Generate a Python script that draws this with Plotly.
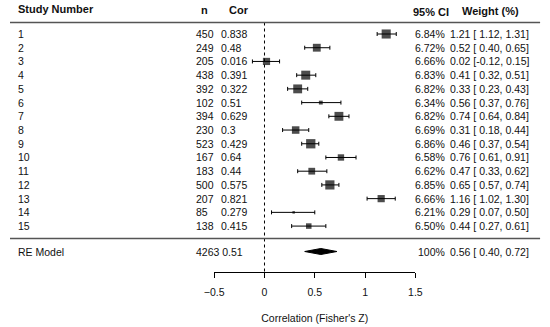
import plotly.graph_objects as go

# ---------------- data ----------------
study = list(range(1, 16))
n = [450, 249, 205, 438, 392, 102, 394, 230, 523, 167, 183, 500, 207, 85, 138]
cor = [0.838, 0.48, 0.016, 0.391, 0.322, 0.51, 0.629, 0.3, 0.429, 0.64, 0.44, 0.575, 0.821, 0.279, 0.415]
weight = [6.84, 6.72, 6.66, 6.83, 6.82, 6.34, 6.82, 6.69, 6.86, 6.58, 6.62, 6.85, 6.66, 6.21, 6.50]
est = [1.21, 0.52, 0.02, 0.41, 0.33, 0.56, 0.74, 0.31, 0.46, 0.76, 0.47, 0.65, 1.16, 0.29, 0.44]
ci_lo = [1.12, 0.40, -0.12, 0.32, 0.23, 0.37, 0.64, 0.18, 0.37, 0.61, 0.33, 0.57, 1.02, 0.07, 0.27]
ci_hi = [1.31, 0.65, 0.15, 0.51, 0.43, 0.76, 0.84, 0.44, 0.54, 0.91, 0.62, 0.74, 1.30, 0.50, 0.61]

re_label = "RE Model"
re_n = 4263
re_cor = 0.51
re_weight = "100%"
re_est = 0.56
re_lo = 0.40
re_hi = 0.72

x_ticks = [-0.5, 0, 0.5, 1, 1.5]
x_ticktext = ["\u22120.5", "0", "0.5", "1", "1.5"]
x_title = "Correlation (Fisher's Z)"

# ---------------- layout helpers ----------------
W, H = 550, 327
ROW0_PX, ROW_PX = 34.0, 13.72


def row(px):
    return (px - ROW0_PX) / ROW_PX + 1


def px_x(px):
    return px / W


FONT = "Liberation Sans, Arial, sans-serif"
FS = 10.5
FS_HEAD = 11
TXT = "#111111"

rows = study
re_row = row(251.5)

# marker sizes scaled from weights (metafor-like)
wmin, wmax = min(weight), max(weight)
sizes = [2.5 + (w - wmin) / (wmax - wmin) * 6.8 for w in weight]

fig = go.Figure()

# study estimates with CIs
fig.add_trace(go.Scatter(
    x=est, y=rows, mode="markers",
    marker=dict(symbol="square", size=sizes, color="black", line=dict(width=0)),
    error_x=dict(type="data", symmetric=False,
                 array=[h - e for h, e in zip(ci_hi, est)],
                 arrayminus=[e - l for e, l in zip(est, ci_lo)],
                 color="black", thickness=1, width=2),
    hoverinfo="skip", showlegend=False, cliponaxis=False,
))

# RE diamond
hh = 3.0 / ROW_PX
fig.add_trace(go.Scatter(
    x=[re_lo, re_est, re_hi, re_est, re_lo],
    y=[re_row, re_row - hh, re_row, re_row + hh, re_row],
    mode="lines", fill="toself", fillcolor="black",
    line=dict(color="black", width=1),
    hoverinfo="skip", showlegend=False,
))

shapes = []
# dotted zero line
shapes.append(dict(type="line", xref="x", yref="y", x0=0, x1=0,
                   y0=row(22.5), y1=row(271.7),
                   line=dict(color="black", width=1, dash="dot")))
# header line and bottom separator
for ypx in (22.5, 238.5):
    shapes.append(dict(type="line", xref="paper", yref="y", x0=0, x1=px_x(547),
                       y0=row(ypx), y1=row(ypx),
                       line=dict(color="#555555", width=1.6)))

ann = []


def add_text(text, xpx, ypx_row, anchor="left", bold=False):
    ann.append(dict(text=f"<b>{text}</b>" if bold else text,
                    x=px_x(xpx), y=ypx_row, xref="paper", yref="y",
                    xanchor=anchor, yanchor="middle", showarrow=False,
                    font=dict(family=FONT, size=FS_HEAD if bold else FS, color=TXT),
                    borderpad=0))


# headers
add_text("Study Number", 7.5, row(9), bold=True)
add_text("n", 196.5, row(10), bold=True)
add_text("Cor", 224.5, row(10), bold=True)
add_text("95% CI", 454, row(11.5), anchor="right", bold=True)
add_text("Weight (%)", 465, row(10.5), bold=True)

for i, r in enumerate(rows):
    add_text(str(study[i]), 7.5, r)
    add_text(str(n[i]), 191, r)
    add_text(str(cor[i]), 217, r)
    add_text(f"{weight[i]:.2f}%", 450, r, anchor="right")
    add_text(f"{est[i]:.2f} [{ci_lo[i]:5.2f},{ci_hi[i]:5.2f}]", 537, r, anchor="right")

add_text(re_label, 7.5, re_row)
add_text(f"{re_n} {re_cor}", 191, re_row)
add_text(re_weight, 450, re_row, anchor="right")
add_text(f"{re_est:.2f} [{re_lo:5.2f},{re_hi:5.2f}]", 537, re_row, anchor="right")

fig.update_layout(
    width=W, height=H,
    margin=dict(l=0, r=0, t=0, b=0),
    paper_bgcolor="white", plot_bgcolor="rgba(0,0,0,0)",
    showlegend=False,
    shapes=shapes, annotations=ann,
    xaxis=dict(
        domain=[210.7 / W, 418.3 / W], range=[-0.5, 1.5],
        anchor="free", position=1 - 271.7 / H,
        showline=True, linecolor="black", linewidth=1,
        ticks="outside", ticklen=5, tickcolor="black", tickwidth=1,
        tickvals=x_ticks, ticktext=x_ticktext,
        tickfont=dict(family=FONT, size=FS, color=TXT),
        ticklabelstandoff=6,
        showgrid=False, zeroline=False,
        title=dict(text=x_title, font=dict(family=FONT, size=FS, color=TXT), standoff=17),
    ),
    yaxis=dict(
        domain=[0, 1], range=[row(H), row(0)],
        visible=False, showgrid=False, zeroline=False,
    ),
)

fig.write_html(
    "out.html",
    config={"displayModeBar": False, "staticPlot": True},
    post_script="document.body.style.margin='0';document.body.style.padding='0';"
                "document.body.style.overflow='hidden';",
)
